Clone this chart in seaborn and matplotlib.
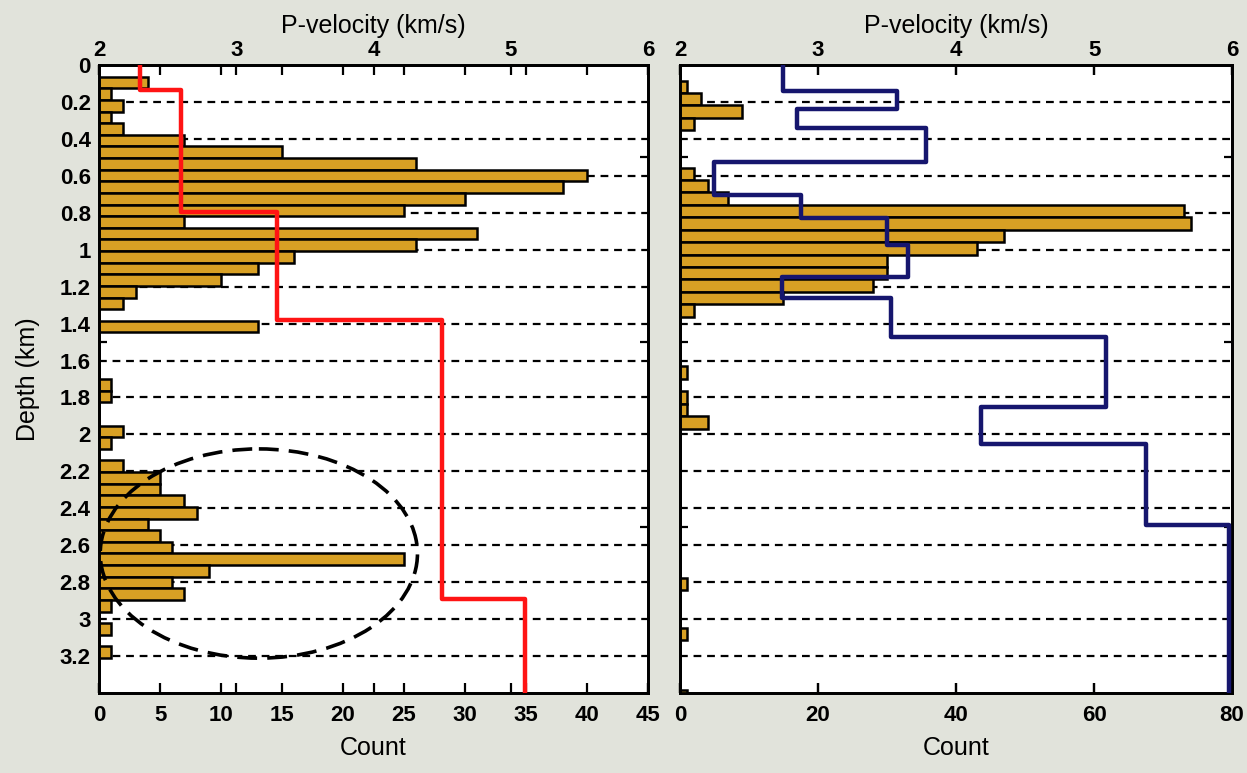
import numpy as np
import pandas as pd
import matplotlib
matplotlib.use("Agg")
import matplotlib.pyplot as plt
from matplotlib.patches import Ellipse
import seaborn as sns

# ---------------- data ----------------
DEPTH_MAX = 3.4
# left panel histogram: 54 depth bins over 0-3.4 km
left_counts = [0, 4, 1, 2, 1, 2, 7, 15, 26, 40, 38, 30, 25, 7, 31, 26, 16, 13, 10, 3,
               2, 0, 13, 0, 0, 0, 0, 1, 1, 0, 0, 2, 1, 0, 2, 5, 5, 7, 8, 4,
               5, 6, 25, 9, 6, 7, 1, 0, 1, 0, 1, 0, 0, 0]
left_edges = np.linspace(0.0, DEPTH_MAX, len(left_counts) + 1)

# right panel histogram: bins of 0.0673 km starting at 0.017 km
right_counts = [0, 1, 3, 9, 2, 0, 0, 0, 2, 4, 7, 73, 74, 47, 43, 30, 30, 28, 15, 2,
                0, 0, 0, 0, 1, 0, 1, 1, 4, 0, 0, 0, 0, 0, 0, 0, 0, 0, 0, 0,
                0, 1, 0, 0, 0, 1, 0, 0, 0, 0, 1]
right_start, right_width = 0.017, 0.0673
right_edges = right_start + right_width * np.arange(len(right_counts) + 1)

# velocity models (layer top depth, P-velocity)
left_vel_tops = [0.0, 0.133, 0.795, 1.383, 2.892]
left_vel = [2.30, 2.60, 3.30, 4.50, 5.10]
right_vel_tops = [0.0, 0.14, 0.24, 0.34, 0.526, 0.702, 0.829, 0.974, 1.15, 1.26,
                  1.473, 1.853, 2.053, 2.488]
right_vel = [2.75, 3.57, 2.85, 3.78, 2.25, 2.88, 3.50, 3.65, 2.74, 3.53,
             5.09, 4.18, 5.375, 5.98]

depth_ticks = [0, 0.2, 0.4, 0.6, 0.8, 1.0, 1.2, 1.4, 1.6, 1.8, 2.0, 2.2, 2.4, 2.6,
               2.8, 3.0, 3.2]
left_count_ticks = [0, 5, 10, 15, 20, 25, 30, 35, 40, 45]
right_count_ticks = [0, 20, 40, 60, 80]
vel_ticks = [2, 3, 4, 5, 6]

# highlighted cluster (dashed ellipse): centre count, centre depth, width, height
ell_cx, ell_cy, ell_w, ell_h = 13.1, 2.645, 26.0, 1.133

# ---------------- style ----------------
sns.set_theme(style="white")
plt.rcParams["font.family"] = ["Liberation Sans", "DejaVu Sans"]
for k in ("text.color", "axes.labelcolor", "xtick.color", "ytick.color"):
    plt.rcParams[k] = "black"

BG = "#E1E3DB"
GOLD = "#D8A024"
RED = "#FF1414"
NAVY = "#16166E"
TICKFONT = dict(fontsize=16, fontweight="bold")
LABELFONT = dict(fontsize=18)

fig = plt.figure(figsize=(12.47, 7.73), dpi=100, facecolor=BG)


def step_path(tops, vels, bottom):
    bots = list(tops[1:]) + [bottom]
    xs, ys = [], []
    for t, b, v in zip(tops, bots, vels):
        xs += [v, v]
        ys += [t, b]
    return xs, ys


def panel(rect, counts, edges, xmax, cticks, tops, vels, lcolor, show_y):
    ax = fig.add_axes(rect)
    ax.set_facecolor("white")
    edges = [float(e) for e in edges]
    centers = [0.5 * (a + b) for a, b in zip(edges[:-1], edges[1:])]
    df = pd.DataFrame({"depth": centers, "count": [float(c) for c in counts]})
    sns.histplot(data=df, y="depth", weights="count", bins=edges, color=GOLD,
                 edgecolor="black", linewidth=1.8, alpha=1.0, ax=ax, zorder=3)
    for d in depth_ticks[1:]:
        ax.axhline(d, color="black", lw=1.6, ls=(0, (3.5, 2.6)), zorder=1)

    ax2 = ax.twiny()
    xs, ys = step_path(tops, vels, DEPTH_MAX)
    sns.lineplot(x=xs, y=ys, sort=False, estimator=None, color=lcolor, lw=3.2,
                 ax=ax2, zorder=5)

    ax.set_xlim(0, xmax)
    ax.set_xticks(cticks)
    ax.set_ylim(DEPTH_MAX, 0)
    ax.set_yticks(depth_ticks)
    ax.set_yticks([0.5, 1.5, 2.5], minor=True)
    ax.set_yticklabels([f"{t:g}" for t in depth_ticks], **TICKFONT)
    ax.set_xticklabels([str(t) for t in cticks], **TICKFONT)
    ax.tick_params(axis="x", which="major", direction="in", top=True, bottom=True,
                   length=7, width=1.6, pad=9)
    ax.tick_params(axis="y", which="major", direction="in", left=True, right=False,
                   length=0, pad=6, labelleft=show_y)
    ax.tick_params(axis="y", which="minor", direction="in", left=True, right=True,
                   length=6, width=1.6)

    ax2.set_xlim(2, 6)
    ax2.set_xticks(vel_ticks)
    ax2.set_xticklabels([str(t) for t in vel_ticks], **TICKFONT)
    ax2.tick_params(axis="x", direction="in", top=True, bottom=True, labeltop=True,
                    labelbottom=False, length=7, width=1.6, pad=3)
    ax.set_ylim(DEPTH_MAX, 0)

    ax.set_xlabel("Count", labelpad=7, **LABELFONT)
    ax2.set_xlabel("P-velocity (km/s)", labelpad=5, **LABELFONT)
    if show_y:
        ax.set_ylabel("Depth (km)", labelpad=14, **LABELFONT)
    else:
        ax.set_ylabel("")
    for a in (ax, ax2):
        for s in a.spines.values():
            s.set_color("black")
            s.set_linewidth(2.0)
    return ax, ax2


axL, axL2 = panel([0.0794, 0.1035, 0.4403, 0.8124], left_counts, left_edges, 45,
                  left_count_ticks, left_vel_tops, left_vel, RED, True)
axL.add_patch(Ellipse((ell_cx, ell_cy), ell_w, ell_h, fill=False, color="black",
                      lw=2.6, ls=(0, (5.5, 2.8)), zorder=6))

axR, axR2 = panel([0.5453, 0.1035, 0.4427, 0.8124], right_counts, right_edges, 80,
                  right_count_ticks, right_vel_tops, right_vel, NAVY, False)

fig.savefig("out.png", dpi=100, facecolor=fig.get_facecolor())
